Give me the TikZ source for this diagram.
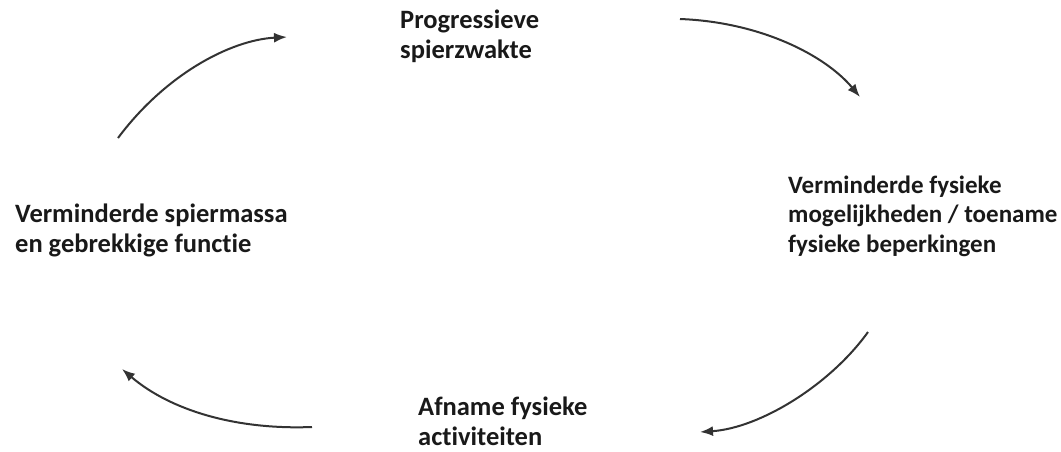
\documentclass[tikz,border=0pt]{standalone}
\usepackage{fontspec}
\setmainfont{Carlito}[Ligatures=NoCommon]
\usetikzlibrary{arrows.meta}
\begin{document}
\begin{tikzpicture}[x=1pt,y=-1pt,
  lbl/.style={anchor=base west,align=left,inner sep=0pt,font=\bfseries\fontsize{26.5}{30}\selectfont,text=black!90},
  cyc/.style={line width=2pt,draw=black!80,-{Latex[length=13pt,width=10pt]}}]
\useasboundingbox (0,0) rectangle (1061,451);
\node[lbl] (ps) at (400,58) {Progressieve\\spierzwakte};
\node[lbl,font=\bfseries\fontsize{25}{29.5}\selectfont] (vf) at (788,252) {Verminderde fysieke\\mogelijkheden / toename\\fysieke beperkingen};
\node[lbl] (af) at (418,445) {Afname fysieke\\activiteiten};
\node[lbl] (vs) at (15,252) {Verminderde spiermassa\\en gebrekkige functie};
\coordinate (a1s) at (680,19); \coordinate (a1e) at (860,97);
\coordinate (a2s) at (868,332); \coordinate (a2e) at (700,432);
\coordinate (a3s) at (312,427); \coordinate (a3e) at (122,369);
\coordinate (a4s) at (118,138); \coordinate (a4e) at (287,37);
\draw[cyc] (a1s) .. controls (760,22) and (825,55) .. (a1e);
\draw[cyc] (a2s) .. controls (830,385) and (760,428) .. (a2e);
\draw[cyc] (a3s) .. controls (235,430) and (170,410) .. (a3e);
\draw[cyc] (a4s) .. controls (165,75) and (230,40) .. (a4e);
\end{tikzpicture}
\end{document}
